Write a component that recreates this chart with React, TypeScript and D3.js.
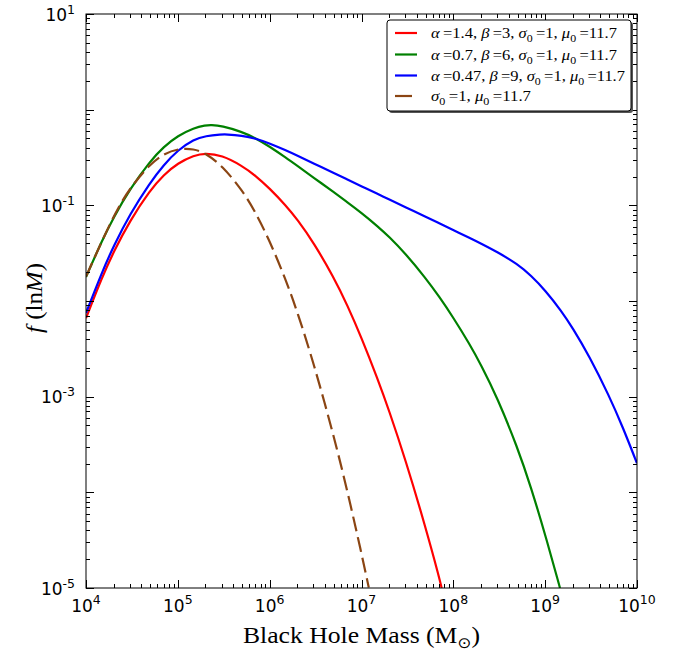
import React from 'react';
import * as d3 from 'd3';

// readings: black hole mass (M_sun) and f(ln M)
const massRed = [1e4, 1.5e4, 2e4, 3e4, 5e4, 7e4, 1e5, 1.5e5, 2e5, 3e5, 5e5, 7e5, 1e6, 1.5e6, 2e6, 3e6, 5e6, 7e6, 1e7, 1.5e7, 2e7, 3e7, 5e7, 7e7, 7.46e7];
const fRed = [0.00662, 0.0178, 0.0327, 0.0689, 0.1445, 0.208, 0.2764, 0.334, 0.3516, 0.335, 0.2594, 0.205, 0.15, 0.0998, 0.0713, 0.041, 0.0176, 0.00909, 0.00414, 0.00153, 7.13e-4, 2.22e-4, 4.28e-5, 1.3e-5, 1.0e-5];

const massGreen = [1e4, 1.5e4, 2e4, 3e4, 5e4, 7e4, 1e5, 1.5e5, 2e5, 2.3e5, 3e5, 5e5, 7e5, 1e6, 1.5e6, 2e6, 3e6, 5e6, 7e6, 1e7, 1.5e7, 2e7, 3e7, 5e7, 7e7, 1e8, 1.5e8, 2e8, 3e8, 5e8, 7e8, 1e9, 1.45e9];
const fGreen = [0.01782, 0.0432, 0.075, 0.1476, 0.2909, 0.4087, 0.534, 0.6463, 0.6864, 0.6914, 0.678, 0.586, 0.5045, 0.411, 0.3148, 0.2584, 0.1954, 0.1369, 0.1078, 0.0834, 0.0604, 0.0469, 0.0314, 0.01731, 0.01114, 0.0067, 0.003553, 0.002159, 9.83e-4, 2.94e-4, 1.135e-4, 3.634e-5, 1.0e-5];

const massBlue = [1e4, 1.5e4, 2e4, 3e4, 5e4, 7e4, 1e5, 1.5e5, 2e5, 3e5, 3.35e5, 5e5, 7e5, 1e6, 1.5e6, 2e6, 3e6, 5e6, 7e6, 1e7, 1.5e7, 2e7, 3e7, 5e7, 7e7, 1e8, 1.5e8, 2e8, 3e8, 5e8, 7e8, 1e9, 1.5e9, 2e9, 3e9, 5e9, 7e9, 1e10];
const fBlue = [0.00747, 0.02025, 0.0376, 0.0806, 0.1737, 0.264, 0.3778, 0.4912, 0.5306, 0.5514, 0.5528, 0.5351, 0.5009, 0.444, 0.3752, 0.3303, 0.2745, 0.2173, 0.1863, 0.1581, 0.1314, 0.1153, 0.0958, 0.0759, 0.0651, 0.0552, 0.0457, 0.0399, 0.0326, 0.0243, 0.01848, 0.01294, 0.00788, 0.0052, 0.00269, 0.00101, 4.8e-4, 2.01e-4];

const massBrown = [1e4, 2e4, 3e4, 5e4, 7e4, 1e5, 1.5e5, 2e5, 3e5, 5e5, 7e5, 1e6, 1.5e6, 2e6, 3e6, 5e6, 7e6, 1e7, 1.2e7];
const fBrown = [0.018, 0.0794, 0.1516, 0.2708, 0.3441, 0.392, 0.3895, 0.351, 0.2633, 0.1451, 0.0849, 0.04256, 0.01663, 0.007723, 0.00228, 3.87e-4, 1.045e-4, 2.3e-5, 1.01e-5];

const xLabelPowers = [4, 5, 6, 7, 8, 9, 10];
const yLabelPowers = [1, -1, -3, -5];

type Piece = { t: string; i?: boolean; sub?: boolean };

const series = [
  { mass: massRed, f: fRed, color: '#ff0000', dash: undefined as string | undefined,
    label: [{ t: 'α', i: true }, { t: '\u2009=1.4, ' }, { t: 'β', i: true }, { t: '\u2009=3, ' }, { t: 'σ', i: true }, { t: '0', sub: true }, { t: '\u2009=1, ' }, { t: 'μ', i: true }, { t: '0', sub: true }, { t: '\u2009=11.7' }] as Piece[], len: 186 },
  { mass: massGreen, f: fGreen, color: '#008000', dash: undefined,
    label: [{ t: 'α', i: true }, { t: '\u2009=0.7, ' }, { t: 'β', i: true }, { t: '\u2009=6, ' }, { t: 'σ', i: true }, { t: '0', sub: true }, { t: '\u2009=1, ' }, { t: 'μ', i: true }, { t: '0', sub: true }, { t: '\u2009=11.7' }] as Piece[], len: 186 },
  { mass: massBlue, f: fBlue, color: '#0000ff', dash: undefined,
    label: [{ t: 'α', i: true }, { t: '\u2009=0.47, ' }, { t: 'β', i: true }, { t: '\u2009=9, ' }, { t: 'σ', i: true }, { t: '0', sub: true }, { t: '\u2009=1, ' }, { t: 'μ', i: true }, { t: '0', sub: true }, { t: '\u2009=11.7' }] as Piece[], len: 194 },
  { mass: massBrown, f: fBrown, color: '#8b4513', dash: '15,6',
    label: [{ t: 'σ', i: true }, { t: '0', sub: true }, { t: '\u2009=1, ' }, { t: 'μ', i: true }, { t: '0', sub: true }, { t: '\u2009=11.7' }] as Piece[], len: 100 },
];

const W = 689;
const H = 656;
const L = 86, R = 637, T = 14, B = 588;
const serif = '"Liberation Serif", "Times New Roman", serif';
const sans = '"DejaVu Sans", sans-serif';

function renderPieces(pieces: Piece[], size: number) {
  let shifted = false;
  return pieces.map((p, k) => {
    let dy = 0;
    if (p.sub && !shifted) { dy = size * 0.28; shifted = true; }
    else if (!p.sub && shifted) { dy = -size * 0.28; shifted = false; }
    return (
      <tspan key={k} dy={dy || undefined} fontStyle={p.i ? 'italic' : 'normal'} fontSize={p.sub ? size * 0.72 : size}>
        {p.t}
      </tspan>
    );
  });
}

export default function App() {
  const x = d3.scaleLog().domain([1e4, 1e10]).range([L, R]);
  const y = d3.scaleLog().domain([1e-5, 10]).range([B, T]);

  // B-spline through the read-off points smooths out reading jitter
  const line = d3.line<[number, number]>()
    .x(d => x(d[0]))
    .y(d => y(d[1]))
    .curve(d3.curveBasis);

  const isMajor = (v: number) => Math.abs(Math.log10(v) - Math.round(Math.log10(v))) < 1e-6;
  const xt = x.ticks();
  const yt = y.ticks();

  const legendX = 387, legendY = 20, legendW = 244, legendH = 91;
  const rowY = [33, 54.5, 75.5, 96];

  return (
    <svg width={W} height={H} style={{ position: 'absolute', left: 0, top: 0, background: '#fff' }}>
      <defs>
        <clipPath id="plot-clip">
          <rect x={L} y={T} width={R - L} height={B - T} />
        </clipPath>
      </defs>
      <rect x={0} y={0} width={W} height={H} fill="#fff" />

      <g clipPath="url(#plot-clip)">
        {series.map((s, i) => (
          <path key={i}
            d={line(s.mass.map((m, j) => [m, s.f[j]] as [number, number])) || ''}
            fill="none" stroke={s.color} strokeWidth={2.2}
            strokeDasharray={s.dash} />
        ))}
      </g>

      {/* frame */}
      <rect x={L} y={T} width={R - L} height={B - T} fill="none" stroke="#000" strokeWidth={1} />

      {/* ticks, inside on all four sides */}
      <g stroke="#000" strokeWidth={1}>
        {xt.map((v, i) => {
          const len = isMajor(v) ? 8 : 4;
          const px = Math.round(x(v)) + 0.5;
          return (
            <g key={'x' + i}>
              <line x1={px} x2={px} y1={B} y2={B - len} />
              <line x1={px} x2={px} y1={T} y2={T + len} />
            </g>
          );
        })}
        {yt.map((v, i) => {
          const len = isMajor(v) ? 8 : 4;
          const py = Math.round(y(v)) + 0.5;
          return (
            <g key={'y' + i}>
              <line x1={L} x2={L + len} y1={py} y2={py} />
              <line x1={R} x2={R - len} y1={py} y2={py} />
            </g>
          );
        })}
      </g>

      {/* tick labels */}
      <g fontFamily={sans} fill="#000">
        {xLabelPowers.map(p => (
          <text key={'xl' + p} x={x(Math.pow(10, p))} y={612} textAnchor="middle" fontSize={17}>
            10<tspan dy={-8} fontSize={12.5}>{p}</tspan>
          </text>
        ))}
        {yLabelPowers.map(p => (
          <text key={'yl' + p} x={75} y={y(Math.pow(10, p)) + 6.5} textAnchor="end" fontSize={17}>
            10<tspan dy={-7} fontSize={12.5}>{p}</tspan>
          </text>
        ))}
      </g>

      {/* axis titles */}
      <text x={243} y={643} fontFamily={serif} fontSize={23} fill="#000"
        textLength={237} lengthAdjust="spacingAndGlyphs">
        Black Hole Mass (M<tspan dy={5} fontSize={15} fontFamily={sans}>⊙</tspan><tspan dy={-5}>)</tspan>
      </text>
      <text transform={`translate(42,333) rotate(-90)`} fontFamily={serif} fontSize={23} fill="#000"
        textLength={70} lengthAdjust="spacingAndGlyphs">
        <tspan fontStyle="italic">f</tspan> (ln<tspan fontStyle="italic">M</tspan>)
      </text>

      {/* legend */}
      <rect x={legendX + 2} y={legendY + 2} width={legendW} height={legendH} rx={3} fill="#555" />
      <rect x={legendX} y={legendY} width={legendW} height={legendH} rx={3} fill="#fff" stroke="#000" strokeWidth={1} />
      {series.map((s, i) => (
        <g key={'lg' + i}>
          <line x1={395} x2={417} y1={rowY[i]} y2={rowY[i]} stroke={s.color} strokeWidth={2.2}
            strokeDasharray={s.dash ? '17,6' : undefined} />
          <text x={431} y={rowY[i] + 5} fontFamily={serif} fontSize={14.5} fill="#000"
            textLength={s.len} lengthAdjust="spacingAndGlyphs">
            {renderPieces(s.label, 14.5)}
          </text>
        </g>
      ))}
    </svg>
  );
}
